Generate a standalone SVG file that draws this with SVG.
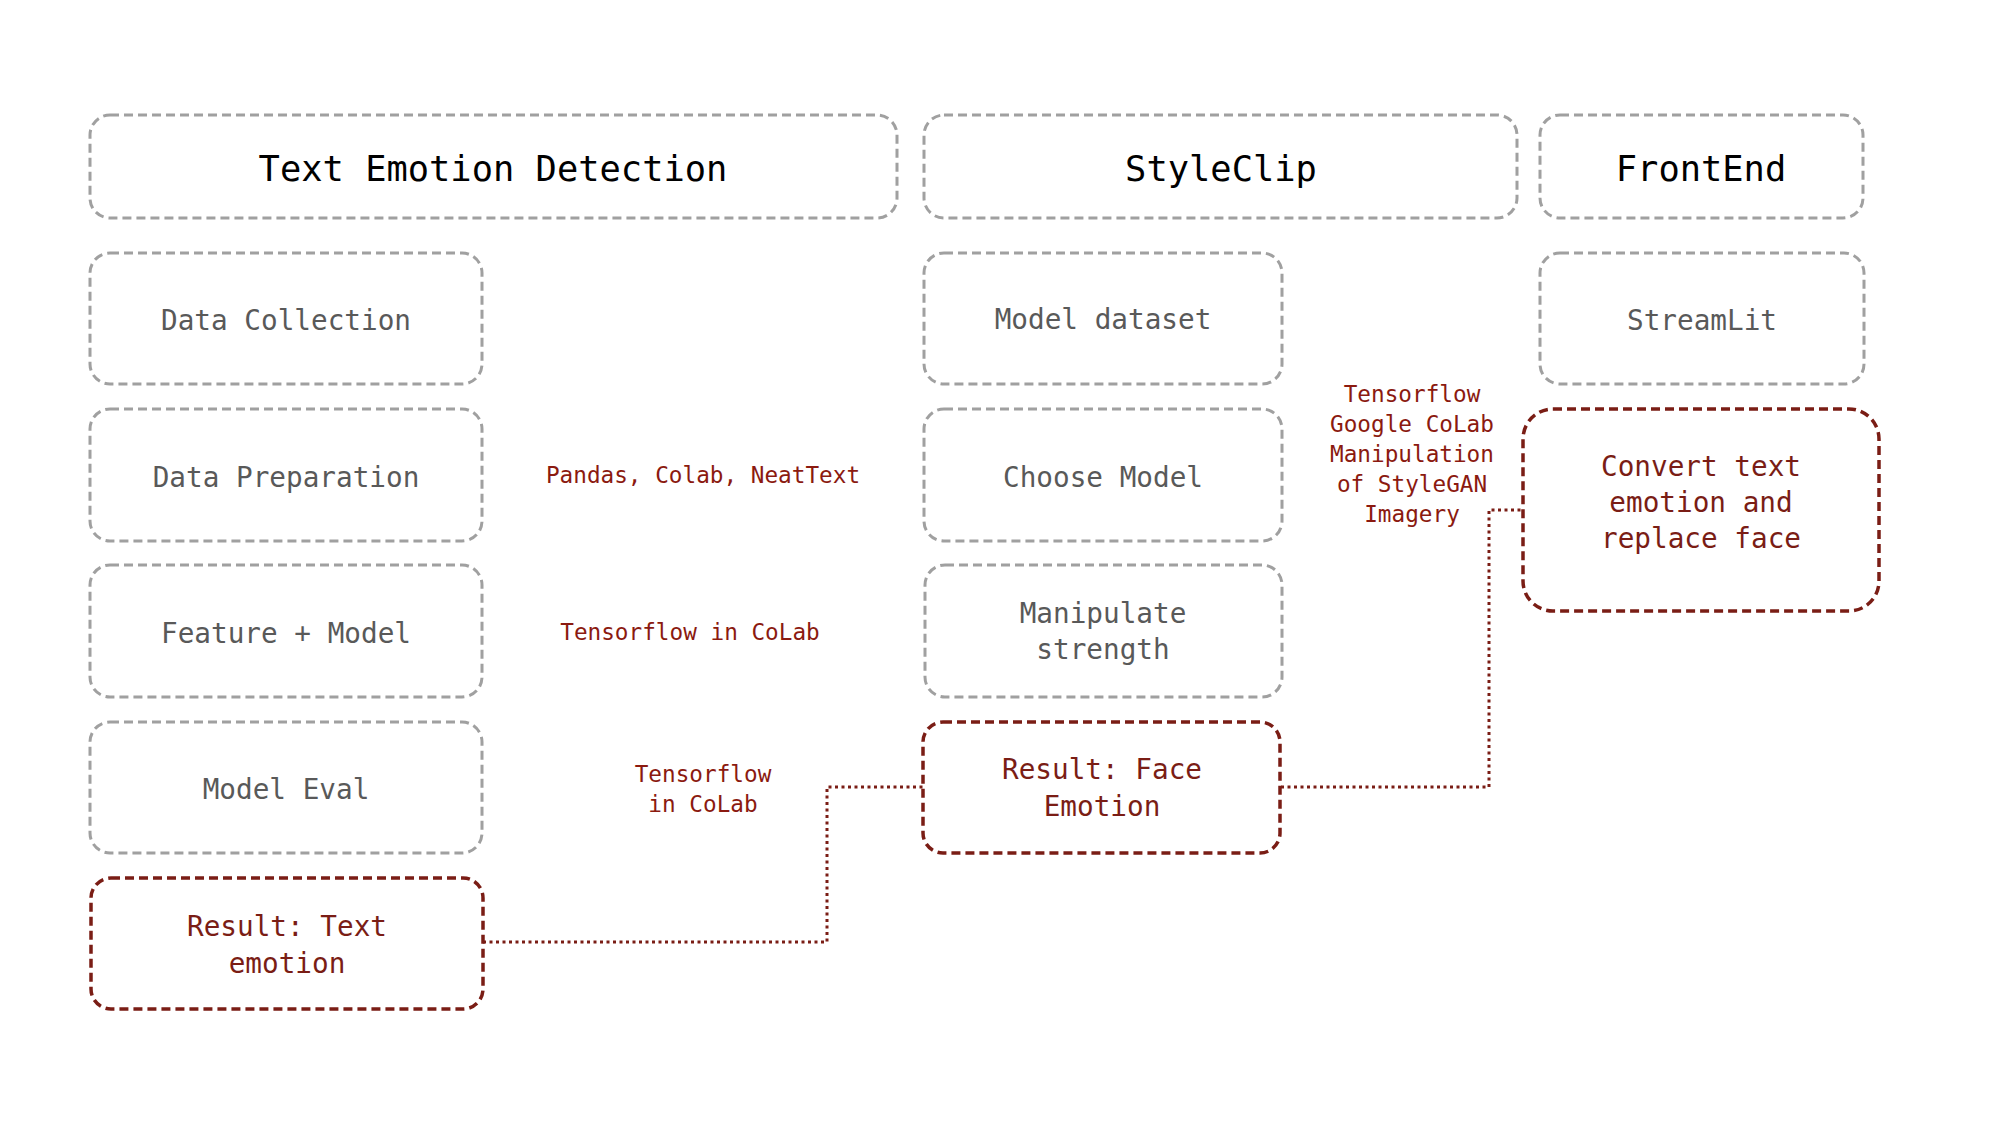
<svg xmlns="http://www.w3.org/2000/svg" width="2000" height="1125" viewBox="0 0 2000 1125">
<style>
.g{fill:none;stroke:#a0a0a0;stroke-width:3;stroke-dasharray:9 5}
.r{fill:none;stroke:#7a1d15;stroke-width:3.5;stroke-dasharray:9 5}
.c{fill:none;stroke:#7a1d15;stroke-width:3;stroke-dasharray:3 3.5}
text{font-family:"DejaVu Sans Mono","Liberation Mono",monospace;text-anchor:middle}
.h{font-size:35.4px;fill:#000}
.t{font-size:27.7px;fill:#595959}
.rt{font-size:27.7px;fill:#7a1d15}
.l{font-size:22.7px;fill:#8b1a10}
</style>
<rect width="2000" height="1125" fill="#fff"/>
<g id="connectors">
<polyline class="c" points="483,942 827,942 827,787 923,787"/>
<polyline class="c" points="1281,787 1489,787 1489,510 1522,510"/>
</g>
<g id="hdr-ted"><rect class="g" x="90" y="115" width="807" height="103" rx="20"/><text class="h" x="493" y="181">Text Emotion Detection</text></g>
<g id="hdr-styleclip"><rect class="g" x="924" y="115" width="593" height="103" rx="20"/><text class="h" x="1221" y="181">StyleClip</text></g>
<g id="hdr-frontend"><rect class="g" x="1540" y="115" width="323" height="103" rx="20"/><text class="h" x="1701" y="181">FrontEnd</text></g>

<g id="data-collection"><rect class="g" x="90" y="253" width="392" height="131" rx="20"/><text class="t" x="286" y="330">Data Collection</text></g>
<g id="data-preparation"><rect class="g" x="90" y="409" width="392" height="132" rx="20"/><text class="t" x="286" y="487">Data Preparation</text></g>
<g id="feature-model"><rect class="g" x="90" y="565" width="392" height="132" rx="20"/><text class="t" x="286" y="643">Feature + Model</text></g>
<g id="model-eval"><rect class="g" x="90" y="722" width="392" height="131" rx="20"/><text class="t" x="286" y="799">Model Eval</text></g>
<g id="result-text"><rect class="r" x="91" y="878" width="392" height="131" rx="20"/><text class="rt" x="287" y="936">Result: Text</text><text class="rt" x="287" y="973">emotion</text></g>

<g id="label-pandas"><text class="l" x="703" y="483">Pandas, Colab, NeatText</text></g>
<g id="label-tf1"><text class="l" x="690" y="640">Tensorflow in CoLab</text></g>
<g id="label-tf2"><text class="l" x="703" y="782">Tensorflow</text><text class="l" x="703" y="812">in CoLab</text></g>

<g id="model-dataset"><rect class="g" x="924" y="253" width="358" height="131" rx="20"/><text class="t" x="1103" y="329">Model dataset</text></g>
<g id="choose-model"><rect class="g" x="924" y="409" width="358" height="132" rx="20"/><text class="t" x="1103" y="487">Choose Model</text></g>
<g id="manipulate-strength"><rect class="g" x="925" y="565" width="357" height="132" rx="20"/><text class="t" x="1103" y="623">Manipulate</text><text class="t" x="1103" y="659">strength</text></g>
<g id="result-face"><rect class="r" x="923" y="722" width="357" height="131" rx="20"/><text class="rt" x="1102" y="779">Result: Face</text><text class="rt" x="1102" y="816">Emotion</text></g>

<g id="label-stylegan"><text class="l" x="1412" y="402">Tensorflow</text><text class="l" x="1412" y="432">Google CoLab</text><text class="l" x="1412" y="462">Manipulation</text><text class="l" x="1412" y="492">of StyleGAN</text><text class="l" x="1412" y="522">Imagery</text></g>

<g id="streamlit"><rect class="g" x="1540" y="253" width="324" height="131" rx="20"/><text class="t" x="1702" y="330">StreamLit</text></g>
<g id="convert"><rect class="r" x="1523" y="409" width="356" height="202" rx="30"/><text class="rt" x="1701" y="476">Convert text</text><text class="rt" x="1701" y="512">emotion and</text><text class="rt" x="1701" y="548">replace face</text></g>
</svg>
